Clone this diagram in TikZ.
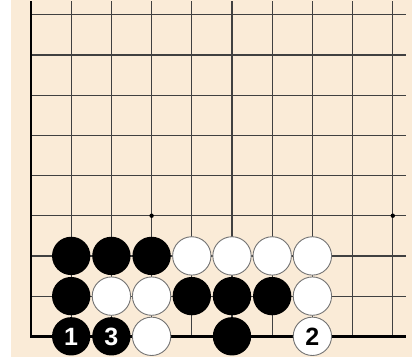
\documentclass[tikz,border=0pt]{standalone}
\usepackage{fontspec}
\setsansfont{Liberation Sans}
\definecolor{boardbg}{HTML}{FAEBD7}
\tikzset{
  gridline/.style={black!75, line width=1.2pt},
  edgeline/.style={black, line width=2.6pt},
  blackstone/.style={fill=black},
  whitestone/.style={fill=white, draw=black!55, line width=0.9pt},
  movelabel/.style={font=\sffamily\bfseries\fontsize{25}{25}\selectfont, inner sep=0pt}
}
\begin{document}
\begin{tikzpicture}[x=40.2pt, y=-40.2pt]
    % Board and margins
    \useasboundingbox (-0.771,-0.366) rectangle (9.602,8.614);
    \fill[boardbg] (-0.5,-0.366) rectangle (9.48,8.515);
    \newcommand{\stoneradius}{0.477}

    % Grid lines (board continues up and to the right)
    \foreach \k in {1,...,9} {
        \draw[gridline] (\k,-0.34) -- (\k,8);
    }
    \foreach \k in {0,...,7} {
        \draw[gridline] (0,\k) -- (9.33,\k);
    }
    % Edges
    \draw[edgeline] (0,-0.34) -- (0,8) -- (9.33,8);
    % Star points
    \foreach \x/\y in {3/5, 9/5} {
        \fill[black] (\x,\y) circle (2.2pt);
    }

    % Stones
    \foreach \x/\y in {1/6, 2/6, 3/6, 1/7, 4/7, 5/7, 6/7, 1/8, 2/8, 5/8} {
        \fill[blackstone] (\x,\y) circle (\stoneradius);
    }
    \foreach \x/\y in {4/6, 5/6, 6/6, 7/6, 2/7, 3/7, 7/7, 3/8, 7/8} {
        \filldraw[whitestone] (\x,\y) circle (\stoneradius);
    }

    % Move numbers
    \node[movelabel, text=white] (m1) at (1,8.02) {1};
    \node[movelabel, text=black] (m2) at (7,8.02) {2};
    \node[movelabel, text=white] (m3) at (2,8.02) {3};
\end{tikzpicture}
\end{document}
